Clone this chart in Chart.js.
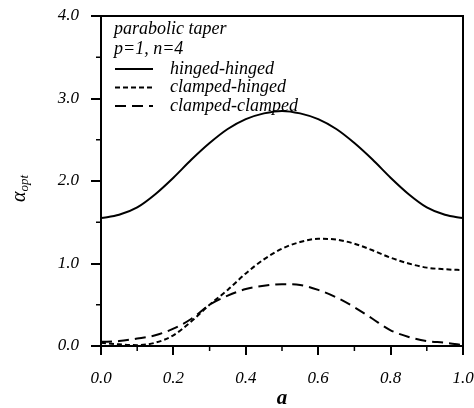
<!DOCTYPE html>
<html>
<head>
<meta charset="utf-8">
<script src="https://cdn.jsdelivr.net/npm/chart.js@4/dist/chart.umd.min.js"></script>
<style>
  html, body { margin: 0; padding: 0; background: #fff; }
  #wrap { width: 474px; height: 408px; }
</style>
</head>
<body>
<div id="wrap"><canvas id="taper"></canvas></div>
<script>
// position along the beam, a
var aValues = [0, 0.05, 0.1, 0.15, 0.2, 0.25, 0.3, 0.35, 0.4, 0.45, 0.5,
               0.55, 0.6, 0.65, 0.7, 0.75, 0.8, 0.85, 0.9, 0.95, 1.0];
// alpha_opt for each end condition
var hingedHinged   = [1.55, 1.59, 1.68, 1.84, 2.04, 2.26, 2.46, 2.63, 2.75, 2.82, 2.85,
                      2.82, 2.75, 2.63, 2.46, 2.26, 2.04, 1.84, 1.68, 1.59, 1.55];
var clampedHinged  = [0.04, 0.02, 0.01, 0.04, 0.13, 0.30, 0.50, 0.68, 0.88, 1.05, 1.18,
                      1.26, 1.30, 1.29, 1.24, 1.16, 1.07, 1.00, 0.95, 0.93, 0.92];
var clampedClamped = [0.05, 0.06, 0.09, 0.13, 0.21, 0.33, 0.50, 0.61, 0.69, 0.73, 0.75,
                      0.74, 0.68, 0.59, 0.47, 0.33, 0.19, 0.11, 0.06, 0.04, 0.01];
var seriesNames = ["hinged-hinged", "clamped-hinged", "clamped-clamped"];
var xTicks = [0, 0.2, 0.4, 0.6, 0.8, 1.0];
var xMinor = [0.1, 0.3, 0.5, 0.7, 0.9];
var yTicks = [0, 1, 2, 3, 4];
var yMinor = [0.5, 1.5, 2.5, 3.5];
var legendNotes = ["parabolic taper", "p=1, n=4"];

var serif = "'Liberation Serif', 'DejaVu Serif', serif";

function pts(ys) {
  return aValues.map(function (a, i) { return { x: a, y: ys[i] }; });
}

function line(label, ys, dash) {
  return {
    label: label,
    data: pts(ys),
    borderColor: "#000",
    borderWidth: 2,
    borderDash: dash,
    pointRadius: 0,
    fill: false,
    cubicInterpolationMode: "monotone"
  };
}

// minor ticks, frame, legend text and y title
var extras = {
  id: "extras",
  afterDraw: function (chart) {
    var c = chart.ctx, area = chart.chartArea;
    var xs = chart.scales.x, ys = chart.scales.y;
    c.save();
    c.strokeStyle = "#000";
    c.lineWidth = 1.5;
    c.beginPath();
    xMinor.forEach(function (v) {
      var px = xs.getPixelForValue(v);
      c.moveTo(px, area.bottom); c.lineTo(px, area.bottom + 5);
    });
    yMinor.forEach(function (v) {
      var py = ys.getPixelForValue(v);
      c.moveTo(area.left, py); c.lineTo(area.left - 5, py);
    });
    c.stroke();

    c.lineWidth = 2;
    c.beginPath();
    c.moveTo(area.left, area.top); c.lineTo(area.right, area.top);
    c.lineTo(area.right, area.bottom);
    c.stroke();

    // legend block
    c.fillStyle = "#000";
    c.font = "italic 18px " + serif;
    c.textBaseline = "middle";
    c.textAlign = "left";
    legendNotes.forEach(function (t, i) {
      c.fillText(t, 114, 29 + i * 20);
    });
    chart.data.datasets.forEach(function (ds, i) {
      var y = 69 + i * 18.5;
      c.setLineDash(ds.borderDash || []);
      c.lineWidth = 2;
      c.beginPath();
      c.moveTo(115, y); c.lineTo(153, y);
      c.stroke();
      c.setLineDash([]);
      c.fillText(ds.label, 170, y);
    });

    // y axis title: alpha with subscript opt
    c.translate(20, 186);
    c.rotate(-Math.PI / 2);
    c.textAlign = "left";
    c.font = "italic 20px " + serif;
    c.fillText("\u03b1", -16, 0);
    var w = c.measureText("\u03b1").width;
    c.font = "italic 13px " + serif;
    c.fillText("opt", -16 + w, 5);
    c.restore();
  }
};

new Chart(document.getElementById("taper"), {
  type: "line",
  data: {
    datasets: [
      line(seriesNames[0], hingedHinged, []),
      line(seriesNames[1], clampedHinged, [5, 3]),
      line(seriesNames[2], clampedClamped, [11, 6])
    ]
  },
  options: {
    responsive: true,
    maintainAspectRatio: false,
    animation: false,
    layout: { padding: { top: 16, right: 11, left: 0, bottom: 0 } },
    plugins: { legend: { display: false }, tooltip: { enabled: false } },
    scales: {
      x: {
        type: "linear",
        min: 0,
        max: 1,
        afterBuildTicks: function (s) { s.ticks = xTicks.map(function (v) { return { value: v }; }); },
        afterFit: function (s) { s.height = 62; s.paddingLeft = 0; s.paddingRight = 0; },
        grid: { drawOnChartArea: false, tickLength: 9, color: "#000", lineWidth: 2 },
        border: { display: true, color: "#000", width: 2 },
        ticks: {
          color: "#000",
          padding: 13,
          maxRotation: 0,
          font: { family: serif, style: "italic", size: 17 },
          callback: function (v) { return Number(v).toFixed(1); }
        },
        title: {
          display: true,
          text: "a",
          color: "#000",
          padding: { top: 0, bottom: -3 },
          font: { family: serif, style: "italic", weight: "bold", size: 21 }
        }
      },
      y: {
        min: 0,
        max: 4,
        afterBuildTicks: function (s) { s.ticks = yTicks.map(function (v) { return { value: v }; }); },
        afterFit: function (s) { s.width = 101; s.paddingTop = 0; s.paddingBottom = 0; },
        grid: { drawOnChartArea: false, tickLength: 10, color: "#000", lineWidth: 2 },
        border: { display: true, color: "#000", width: 2 },
        ticks: {
          color: "#000",
          padding: 12,
          font: { family: serif, style: "italic", size: 17 },
          callback: function (v) { return Number(v).toFixed(1); }
        }
      }
    }
  },
  plugins: [extras]
});
</script>
</body>
</html>
